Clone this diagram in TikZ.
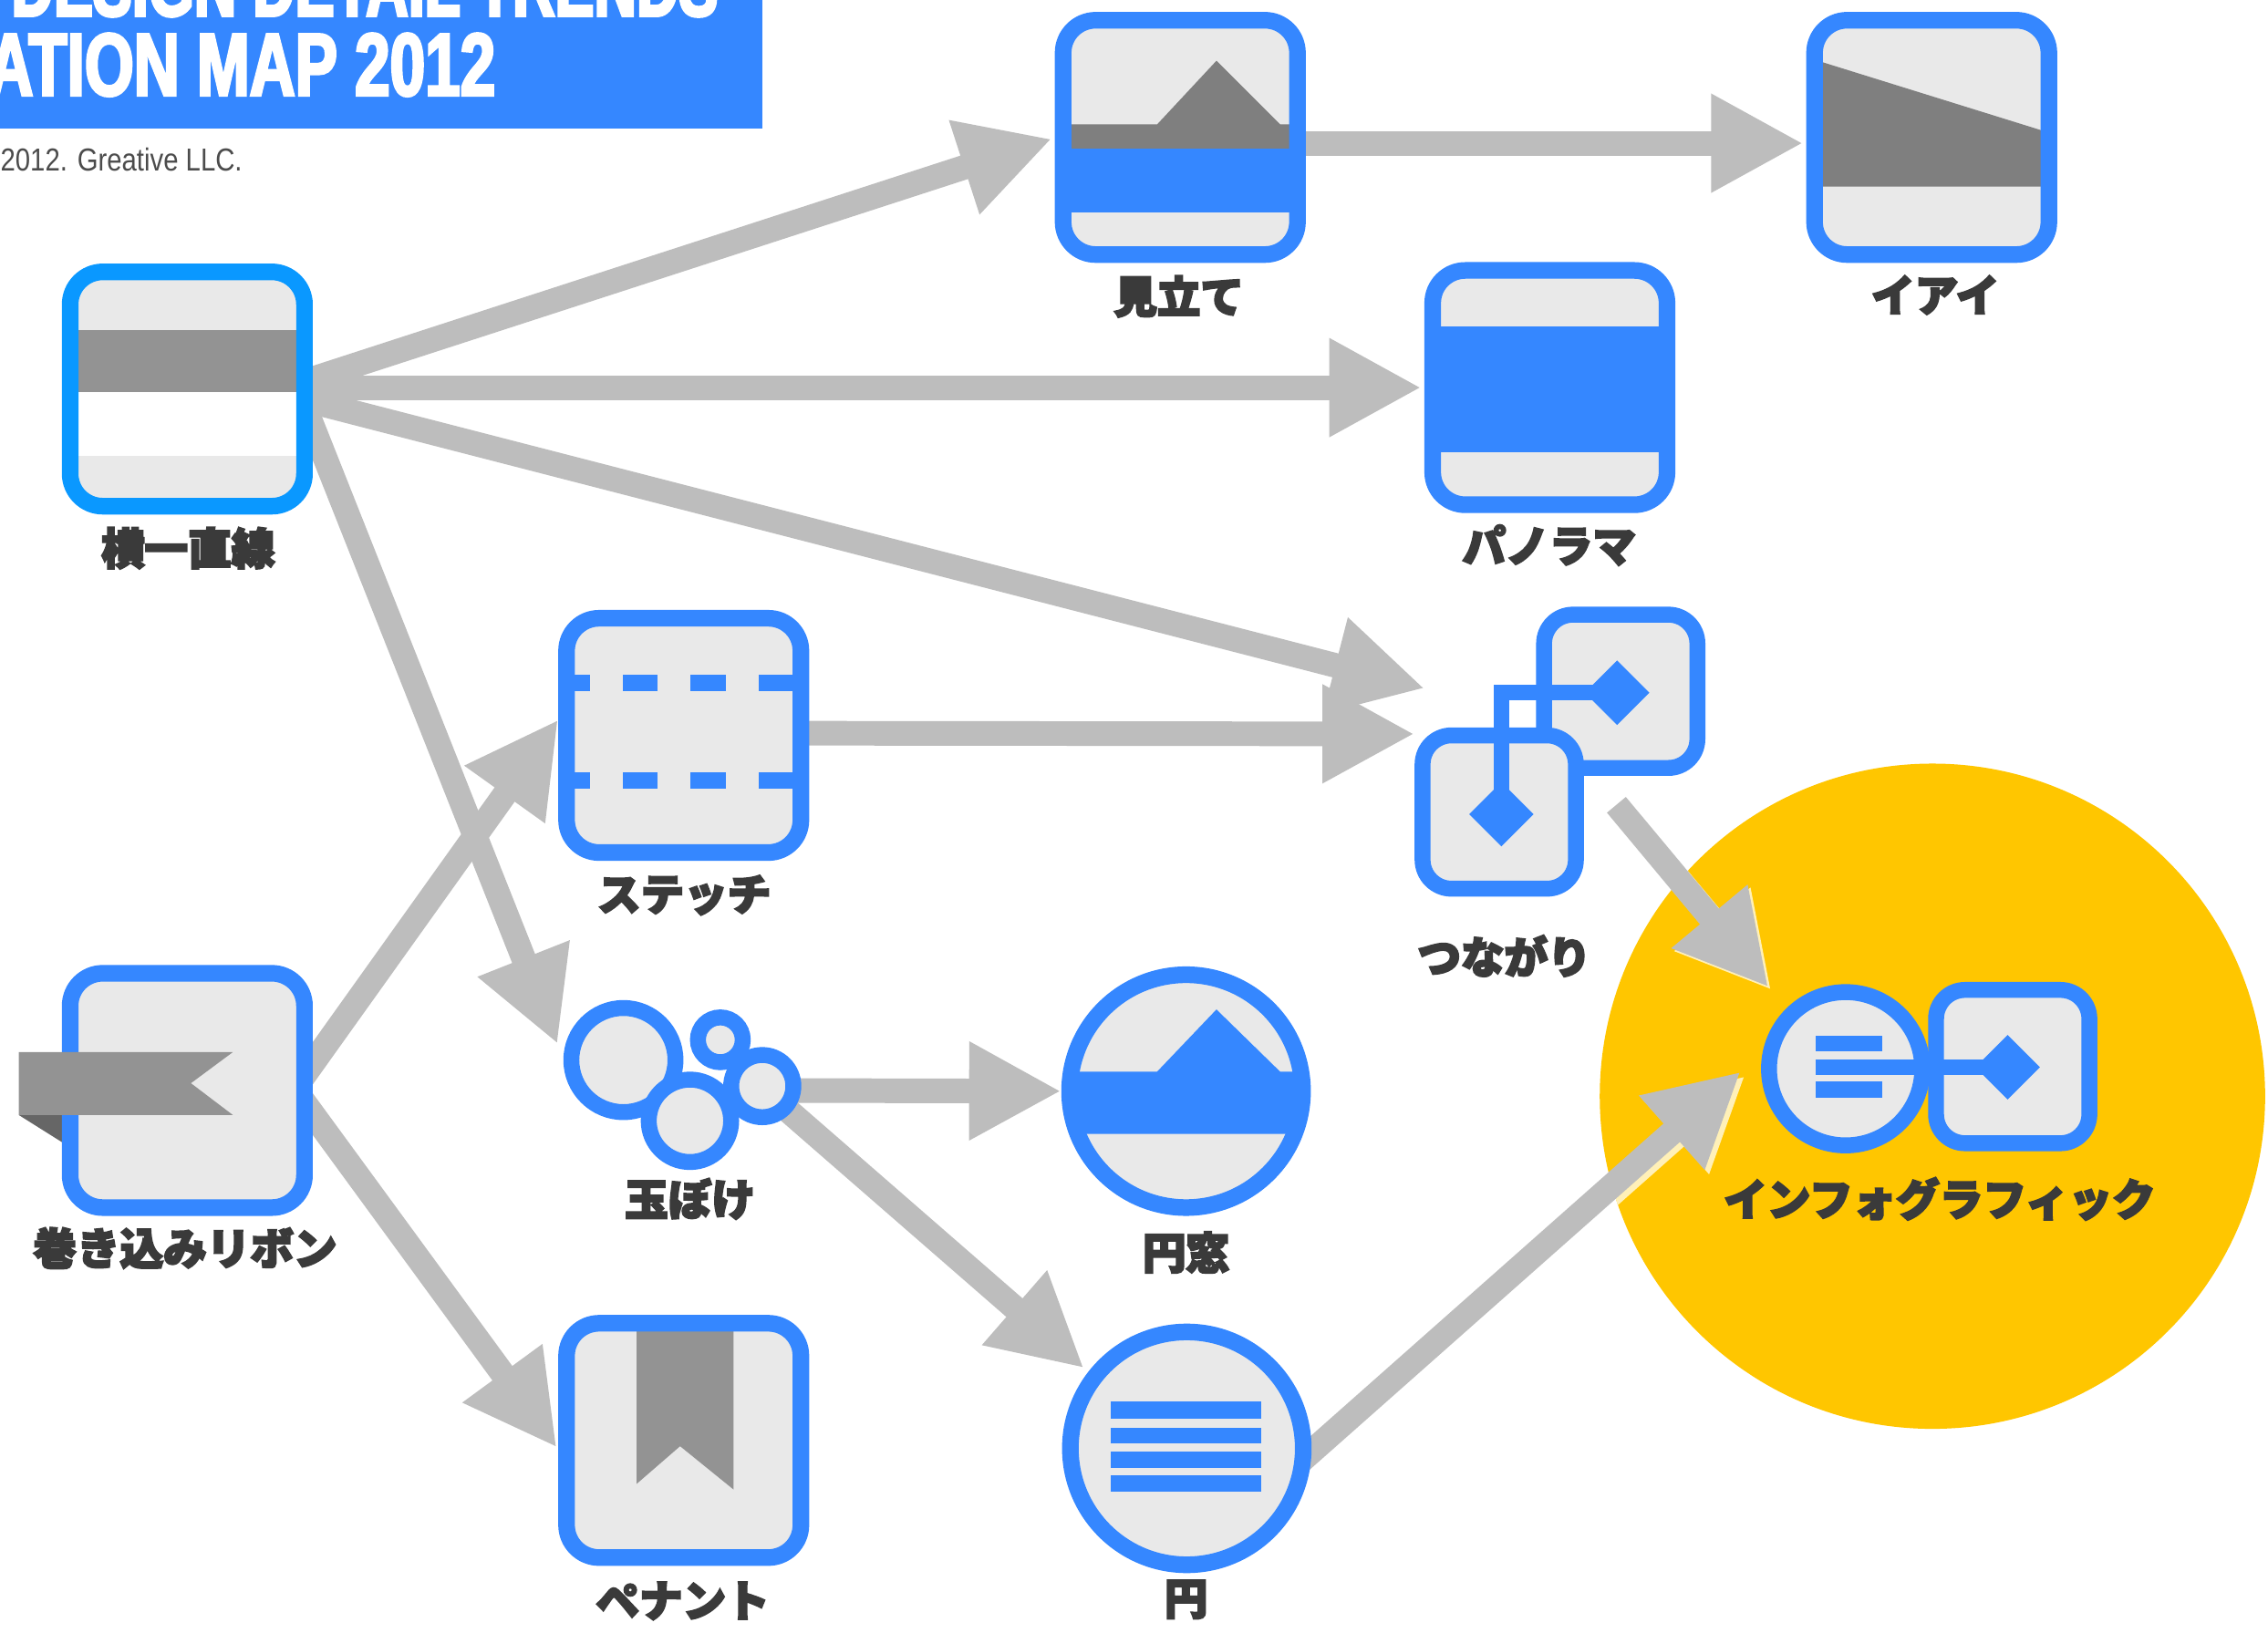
\documentclass[tikz,border=0pt]{standalone}
\usepackage{fontspec}
\usetikzlibrary{arrows.meta,calc,shapes.geometric}
\setmainfont{Liberation Sans}
\newfontfamily\titlefontA[FakeStretch=0.66,FakeBold=3]{Liberation Sans}
\newfontfamily\titlefontB[FakeStretch=0.71,FakeBold=3]{Liberation Sans}
\newfontfamily\smallfont[FakeStretch=0.84]{Liberation Sans}
\newfontfamily\cjk[FakeBold=4.5]{Noto Sans CJK JP}
\definecolor{frameblue}{HTML}{3587FF}
\definecolor{skyblue}{HTML}{0A98FF}
\definecolor{lightfill}{HTML}{E9E9E9}
\definecolor{bandgray}{HTML}{939393}
\definecolor{darkgray}{HTML}{7F7F7F}
\definecolor{foldgray}{HTML}{666666}
\definecolor{arrowgray}{HTML}{BDBDBD}
\definecolor{sun}{HTML}{FFC600}
\definecolor{glow}{HTML}{FFF0B8}
\definecolor{labelink}{HTML}{3A3A3A}
\pgfdeclarelayer{under}
\pgfdeclarelayer{arrows}
\pgfsetlayers{under,arrows,main}
\tikzset{
  inpic/.style={path picture={\begin{scope}[sharp corners,shift={(path picture bounding box.center)}]#1\end{scope}}},
  ibox/.style={draw=frameblue,fill=lightfill,line width=4.6pt,rounded corners=9pt,minimum size=64.8pt,inner sep=0pt},
  sbox/.style={draw=frameblue,fill=lightfill,line width=4.4pt,rounded corners=8pt,minimum size=42.4pt,inner sep=0pt},
  icirc/.style={circle,draw=frameblue,fill=lightfill,line width=4.6pt,minimum size=64.4pt,inner sep=0pt},
  scirc/.style={circle,draw=frameblue,fill=lightfill,line width=4.4pt,inner sep=0pt},
  dia/.style={diamond,fill=frameblue,minimum size=18pt,inner sep=0pt,aspect=1},
  lab/.style={text=labelink,font=\cjk\bfseries\fontsize{12}{14}\selectfont,inner sep=0pt},
  arr/.style={draw=arrowgray,line width=6.8pt,-{Triangle[length=25.5pt,width=25.5pt,fill=arrowgray]}},
  arrglow/.style={draw=glow,line width=6.8pt,-{Triangle[length=25.5pt,width=25.5pt,fill=glow]}},
  link/.style={draw=frameblue,line width=4.3pt}
}
\begin{document}
\begin{tikzpicture}[x=0.4pt,y=-0.4pt]
\useasboundingbox (0,0) rectangle (1568,1129);
\clip (0,0) rectangle (1568,1129);

% title band
\fill[frameblue] (0,0) rectangle (527,89);
\node[anchor=base east,inner sep=0pt,text=white,font=\titlefontA\bfseries\fontsize{24.6}{26}\selectfont] (titleA) at (497,11) {DESIGN DETAIL TRENDS};
\node[anchor=base east,inner sep=0pt,text=white,font=\titlefontB\bfseries\fontsize{24.6}{26}\selectfont] (titleB) at (343,66) {ATION MAP 2012};
\node[anchor=base east,inner sep=0pt,text=black!70,font=\smallfont\fontsize{8.8}{10}\selectfont] (copy) at (168,118) {2012. Greative LLC.};

% highlight disc
\begin{pgfonlayer}{under}
\fill[white] (0,0) rectangle (1568,1129);
\node[circle,fill=sun,minimum size=184pt,inner sep=0pt] (sundisc) at (1336,758) {};
\end{pgfonlayer}

% boxes
\node[ibox,draw=skyblue,inpic={
  \fill[bandgray] (-90,-41) rectangle (90,2);
  \fill[white] (-90,2) rectangle (90,46);}] (yoko) at (129.5,269) {};
\node[ibox,inpic={
  \fill[darkgray] (-90,-9) -- (-16,-9) -- (25,-53) -- (69,-9) -- (90,-9) -- (90,8) -- (-90,8) -- cycle;
  \fill[frameblue] (-90,8) rectangle (90,52);}] (mitate) at (816,95) {};
\node[ibox,inpic={
  \fill[darkgray] (-90,-56.5) -- (90,-0.5) -- (90,34) -- (-90,34) -- cycle;}] (iai) at (1335.5,95) {};
\node[ibox,inpic={
  \fill[frameblue] (-90,-42) rectangle (90,45);}] (panorama) at (1071.5,268) {};
\node[ibox,inpic={
  \foreach \yy/\yz in {-42/-30.5,25.5/37}{
    \fill[frameblue] (-90,\yy) rectangle (-65,\yz);
    \fill[frameblue] (-42,\yy) rectangle (-18,\yz);
    \fill[frameblue] (4.5,\yy) rectangle (29,\yz);
    \fill[frameblue] (52,\yy) rectangle (90,\yz);
  }}] (stitch) at (472.7,508.5) {};
\fill[foldgray] (13,771) -- (48,771) -- (48,793) -- cycle;
\node[ibox] (ribbon) at (129.5,754) {};
\fill[bandgray] (13,727.5) -- (161,727.5) -- (132,749) -- (161,771) -- (13,771) -- cycle;
\node[ibox,inpic={
  \fill[bandgray] (-32.5,-90) -- (34.5,-90) -- (34.5,34) -- (-2.5,4) -- (-32.5,30) -- cycle;}] (pennant) at (472.7,996) {};

% bokeh circles
\node[scirc,minimum size=28.8pt] (bokeA) at (431,733) {};
\node[scirc,minimum size=12.4pt] (bokeB) at (498,719) {};
\node[scirc,minimum size=17.2pt] (bokeC) at (527,751) {};
\node[scirc,minimum size=22.8pt] (bokeD) at (477,775) {};

% round windows
\node[icirc,inpic={
  \fill[frameblue] (-95,-13.5) -- (-20,-13.5) -- (21,-56.5) -- (65,-13.5) -- (95,-13.5) -- (95,29.5) -- (-95,29.5) -- cycle;}] (enso) at (820,754.5) {};
\node[icirc,inpic={
  \fill[frameblue] (-52.5,-32.5) rectangle (51.5,-20.5);
  \fill[frameblue] (-52.5,-14.5) rectangle (51.5,-3.5);
  \fill[frameblue] (-52.5,2.5) rectangle (51.5,13.5);
  \fill[frameblue] (-52.5,18.5) rectangle (51.5,30);}] (en) at (820.5,1001.5) {};

% linked pair
\node[sbox] (tsuA) at (1120.5,478) {};
\node[sbox] (tsuB) at (1036.5,561.5) {};
\node[dia] (tsuDA) at (1118,479) {};
\node[dia] (tsuDB) at (1038,563) {};
\draw[link] (tsuDB.center) |- (tsuDA.center);

% infographic
\node[scirc,minimum size=42.4pt,inpic={
  \fill[frameblue] (-21,-23) rectangle (25,-12);
  \fill[frameblue] (-21,9) rectangle (25,20);}] (infoC) at (1276,739) {};
\node[sbox] (infoB) at (1391.5,737.5) {};
\node[dia] (infoD) at (1388,738) {};
\coordinate (infoS) at (1255,738);
\draw[link] (infoS) -- (infoD.center);

% labels
\node[lab] (l1) at (130,379) {横一直線};
\node[lab] (l2) at (815,205) {見立て};
\node[lab] (l3) at (1338,204) {イアイ};
\node[lab] (l4) at (1071,377) {パノラマ};
\node[lab] (l5) at (473,619) {ステッチ};
\node[lab] (l6) at (1040,661) {つながり};
\node[lab] (l7) at (128,863) {巻き込みリボン};
\node[lab] (l8) at (477,829) {玉ぼけ};
\node[lab] (l9) at (820,866) {円窓};
\node[lab] (l10) at (820,1106) {円};
\node[lab] (l11) at (472,1107) {ペナント};
\node[lab] (l12) at (1341,829) {インフォグラフィック};

% connectors
\begin{pgfonlayer}{arrows}
\begin{scope}
\clip (sundisc.center) circle (230);
\draw[arrglow] ($(en.east)+(-8,15)$) -- ($(infoC.west)+(-11,5)$);
\draw[arrglow] ($(tsuA.south)+(-1,22)$) -- ($(infoC.north west)+(-10,-13)$);
\end{scope}
\draw[arr] ($(yoko.east)+(-11,-3.5)$) -- ($(mitate.west)+(-2,1)$);
\draw[arr] ($(yoko.east)+(-8,-1)$) -- ($(panorama.west)+(-2,0)$);
\draw[arr] ($(yoko.east)+(-11,6)$) -- ($(tsuA.west)+(-77,-2)$);
\draw[arr] ($(yoko.east)+(-8,6)$) -- ($(bokeA.west)+(-4,-11)$);
\draw[arr] ($(mitate.east)+(-5,4)$) -- ($(iai.west)+(-2,4)$);
\draw[arr] ($(stitch.east)+(-5,-1.5)$) -- ($(tsuB.west)+(0,-54)$);
\draw[arr] ($(ribbon.east)+(-12,-2)$) -- ($(stitch.west)+(0,-11)$);
\draw[arr] ($(ribbon.east)+(-12,0)$) -- ($(pennant.west)+(-1,5)$);
\draw[arr] (bokeC.center) ++(0,3) -- (enso.west);
\draw[arr] ($(bokeC.center)+(3,4)$) -- ($(en.140)+(-5,0)$);
\draw[arr] ($(en.east)+(-11,12)$) -- ($(infoC.west)+(-14,2)$);
\draw[arr] ($(tsuA.south)+(-3,20)$) -- ($(infoC.north west)+(-12,-15)$);
\end{pgfonlayer}
\end{tikzpicture}
\end{document}
